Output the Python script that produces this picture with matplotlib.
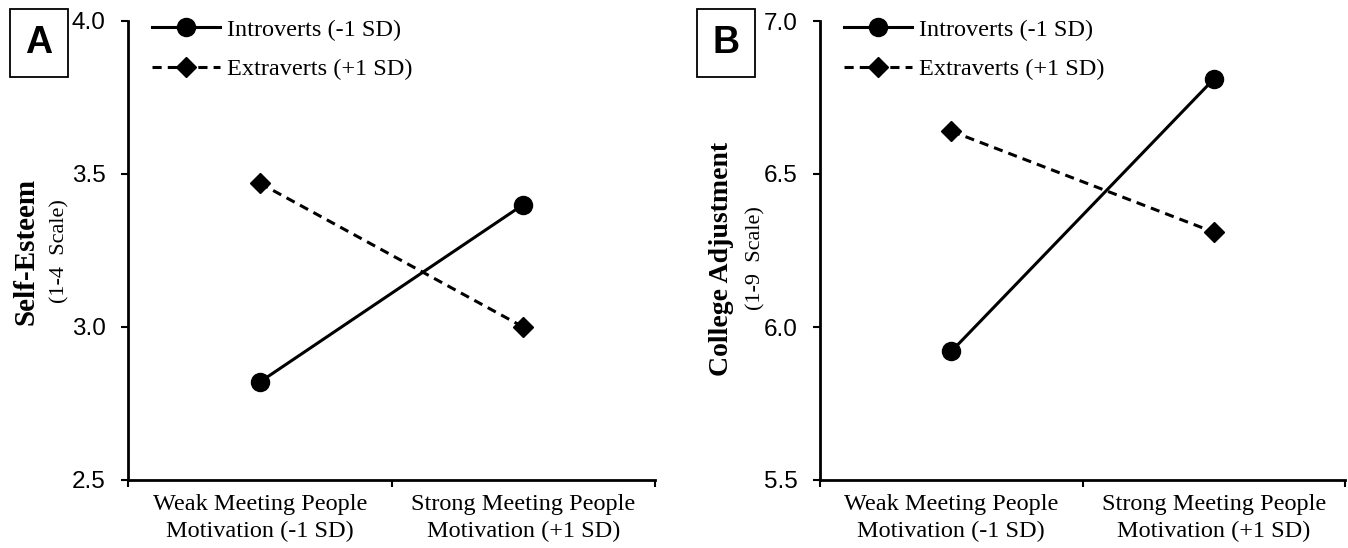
import matplotlib
matplotlib.use("Agg")
import matplotlib.pyplot as plt

# Data
categories = ["Weak Meeting People\nMotivation (-1 SD)", "Strong Meeting People\nMotivation (+1 SD)"]
series_names = ["Introverts (-1 SD)", "Extraverts (+1 SD)"]

esteem_intro = [2.82, 3.40]
esteem_extra = [3.47, 3.00]
adjust_intro = [5.92, 6.81]
adjust_extra = [6.64, 6.31]

panels = [
    ("A", "Self-Esteem", "(1-4  Scale)", esteem_intro, esteem_extra, [2.5, 3.0, 3.5, 4.0]),
    ("B", "College Adjustment", "(1-9  Scale)", adjust_intro, adjust_extra, [5.5, 6.0, 6.5, 7.0]),
]

serif = ["Liberation Serif", "DejaVu Serif"]
sans = ["Liberation Sans", "DejaVu Sans"]

fig = plt.figure(figsize=(13.48, 5.48), dpi=100)
W, H = 1348, 548

ax_boxes = [(128, 655), (820, 1345)]
letter_x = [39, 726]
label_x = [(26, 60), (722, 756)]
label_y = [(251, 251), (259, 258)]
label_size = [21, 20]
top_px, bot_px = 21, 480

for i, (letter, ylab, yscale, intro, extra, yticks) in enumerate(panels):
    l, r = ax_boxes[i]
    ax = fig.add_axes([l / W, 1 - bot_px / H, (r - l) / W, (bot_px - top_px) / H])
    x = [1, 2]
    ax.plot(x, intro, color="black", lw=2.2, marker="o", markersize=13,
            label=series_names[0])
    ax.plot(x, extra, color="black", lw=2.2, ls=(0, (3, 2)), marker="D", markersize=10,
            label=series_names[1])
    ax.set_xlim(0.5, 2.5)
    ax.set_ylim(yticks[0], yticks[-1])
    ax.set_yticks(yticks)
    ax.set_yticklabels([f"{v:.1f}" for v in yticks], family=sans, fontsize=17.5)
    ax.set_xticks([0.5, 1.5, 2.5])
    ax.set_xticklabels([])
    ax.set_xticks(x, minor=True)
    ax.set_xticklabels(categories, minor=True, family=serif, fontsize=17.5, linespacing=1.4)
    ax.tick_params(axis="x", which="minor", length=0, pad=10)
    ax.tick_params(axis="x", which="major", direction="out", length=5, width=1.5)
    ax.tick_params(axis="y", direction="out", length=5, width=1.5, pad=11)
    for s in ["top", "right"]:
        ax.spines[s].set_visible(False)
    for s in ["left", "bottom"]:
        ax.spines[s].set_linewidth(2)

    ax.legend(loc="upper left", bbox_to_anchor=(0.045, 1.005), frameon=False,
              prop={"family": serif, "size": 17.5}, handlelength=2.8,
              handletextpad=0.3, labelspacing=0.72, borderpad=0, borderaxespad=0)

    fig.text(letter_x[i] / W, 1 - 43 / H, letter, family=sans, fontsize=27, weight="bold",
             ha="center", va="center",
             bbox=dict(boxstyle="square,pad=0.42", fc="white", ec="black", lw=1.3))
    fig.text(label_x[i][0] / W, 1 - label_y[i][0] / H, ylab, family=serif,
             fontsize=label_size[i], weight="bold", rotation=90, ha="center", va="center")
    fig.text(label_x[i][1] / W, 1 - label_y[i][1] / H, yscale, family=serif, fontsize=16,
             rotation=90, ha="center", va="center")

fig.savefig("out.png", dpi=100)
